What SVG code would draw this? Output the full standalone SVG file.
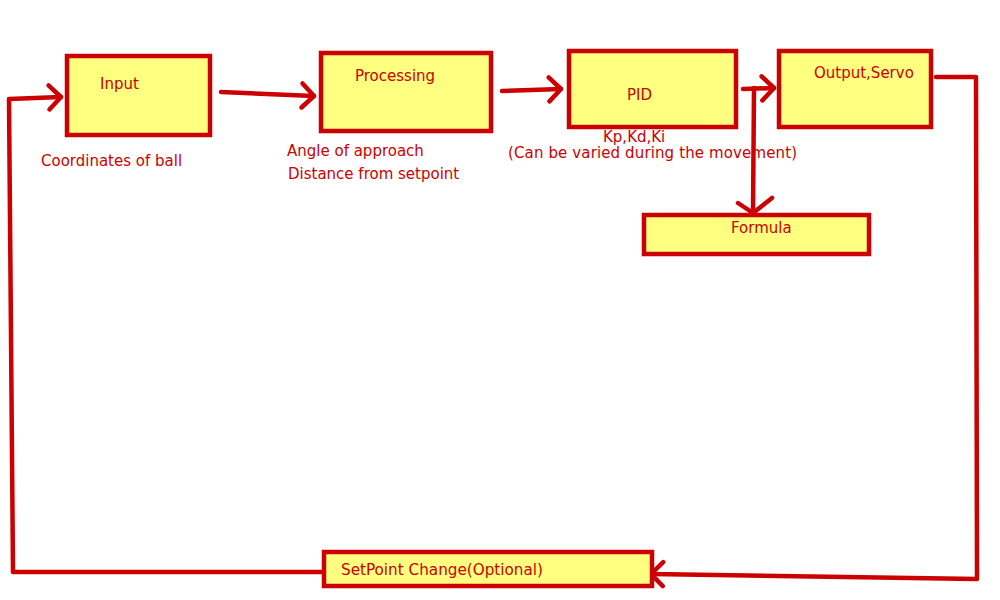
<svg xmlns="http://www.w3.org/2000/svg" width="1000" height="600" viewBox="0 0 1000 600">
<style>
.box{fill:#ffff80;stroke:#cc0000;stroke-width:4.5}
.t{font-family:"DejaVu Sans",sans-serif;font-size:15px;fill:#cc0000}
.tc{font-family:"DejaVu Sans Condensed","DejaVu Sans",sans-serif;font-size:16px;fill:#cc0000;font-stretch:condensed}
.c{fill:none;stroke:#cc0000;stroke-width:4.5;stroke-linecap:round;stroke-linejoin:round}
</style>
<defs>
<marker id="ah" markerUnits="userSpaceOnUse" viewBox="-20 -15 24 30" refX="0" refY="0" markerWidth="24" markerHeight="30" orient="auto" overflow="visible">
<path d="M-12,-12 L0,0 L-12,12" fill="none" stroke="#cc0000" stroke-width="4.5" stroke-linecap="round" stroke-linejoin="round"/>
</marker>
</defs>
<g id="connectors">
<path class="c" d="M221,92 L314,96" marker-end="url(#ah)"/>
<path class="c" d="M502,91 L561,89" marker-end="url(#ah)"/>
<path class="c" d="M743,89 L774,88" marker-end="url(#ah)"/>
<path class="c" d="M754,88 L753,213"/>
<path class="c" d="M738,203 L753,213 L772,198"/>
<path class="c" d="M936,77 L976,77 L977,579 L651,574" marker-end="url(#ah)"/>
<path class="c" d="M322,572 L13,572 L9,99 L61,97" marker-end="url(#ah)"/>
</g>
<g id="input">
<rect class="box" x="67" y="56" width="143" height="79"/>
<text class="t" x="100" y="89">Input</text>
<text class="t" x="41" y="166">Coordinates of ball</text>
</g>
<g id="processing">
<rect class="box" x="321" y="53" width="170" height="78"/>
<text class="t" x="355" y="81">Processing</text>
<text class="t" x="287" y="156">Angle of approach</text>
<text class="t" x="288" y="179">Distance from setpoint</text>
</g>
<g id="pid">
<rect class="box" x="569" y="51" width="167" height="76"/>
<text class="t" x="627" y="100">PID</text>
<text class="t" x="603" y="142">Kp,Kd,Ki</text>
<text class="t" x="508" y="158" textLength="289">(Can be varied during the movement)</text>
</g>
<g id="output">
<rect class="box" x="779" y="51" width="152" height="76"/>
<text class="t" x="814" y="78">Output,Servo</text>
</g>
<g id="formula">
<rect class="box" x="644" y="215" width="225" height="39"/>
<text class="t" x="731" y="233">Formula</text>
</g>
<g id="setpoint">
<rect class="box" x="324" y="552" width="328" height="34"/>
<text class="tc" x="341" y="575" textLength="202" lengthAdjust="spacingAndGlyphs">SetPoint Change(Optional)</text>
</g>
</svg>
